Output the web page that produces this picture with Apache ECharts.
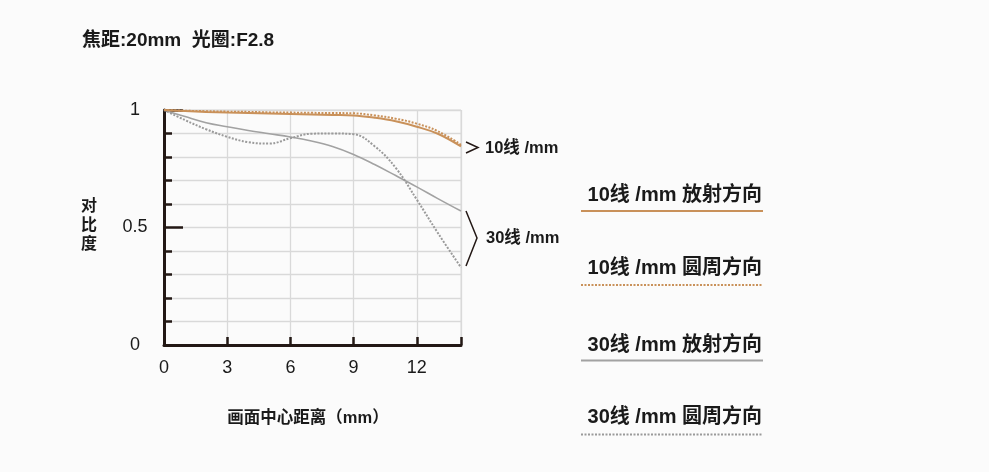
<!DOCTYPE html>
<html>
<head>
<meta charset="utf-8">
<script src="https://cdn.jsdelivr.net/npm/echarts@6/dist/echarts.min.js"></script>
<style>
html,body{margin:0;padding:0;background:#fbfbfb;}
#chart{width:989px;height:472px;}
</style>
</head>
<body>
<div id="chart"></div>
<script>
// Image-height distance from centre (mm)
const distances = [0, 1, 2, 3, 4, 5, 6, 7, 8, 9, 10, 11, 12, 13, 14.1];
// MTF contrast values
const radial10     = [1.000, 0.996, 0.992, 0.989, 0.987, 0.985, 0.983, 0.981, 0.979, 0.977, 0.967, 0.952, 0.929, 0.899, 0.845];
const tangential10 = [1.000, 0.997, 0.995, 0.993, 0.992, 0.990, 0.989, 0.988, 0.987, 0.986, 0.977, 0.963, 0.942, 0.910, 0.852];
const radial30     = [1.000, 0.972, 0.946, 0.929, 0.913, 0.899, 0.885, 0.868, 0.845, 0.811, 0.768, 0.721, 0.673, 0.623, 0.570];
const tangential30 = [1.000, 0.957, 0.918, 0.886, 0.863, 0.857, 0.880, 0.899, 0.900, 0.897, 0.846, 0.754, 0.619, 0.477, 0.330];

const seriesNames = ['10线 /mm 放射方向', '10线 /mm 圆周方向', '30线 /mm 放射方向', '30线 /mm 圆周方向'];
const yMajorLabels = {0: '0', 0.5: '0.5', 1: '1'};
const xTickLabels = ['0', '3', '6', '9', '12'];
const titleText = '焦距:20mm  光圈:F2.8';
const xName = '画面中心距离（mm）';
const yName = '对\n比\n度';
const groupLabels = ['10线 /mm', '30线 /mm'];

const FONT = '"Liberation Sans", "Noto Sans CJK SC", sans-serif';
const DARK = '#231815';
const ORANGE = '#c9915a';
const GRAY = '#a2a2a2';
const GRAYDOT = '#9a9a9a';

function pairs(ys) { return distances.map((x, i) => [x, ys[i]]); }

const chart = echarts.init(document.getElementById('chart'), null, {renderer: 'canvas'});

const legendItems = [
  {name: seriesNames[0], color: ORANGE, dash: 'solid', textY: 195, lineY: 211},
  {name: seriesNames[1], color: ORANGE, dash: [2, 1.5], textY: 268, lineY: 285},
  {name: seriesNames[2], color: GRAY, dash: 'solid', textY: 345, lineY: 360.5},
  {name: seriesNames[3], color: GRAYDOT, dash: [2, 1.5], textY: 417, lineY: 434.5}
];

const graphics = [];
graphics.push({type: 'text', x: 82, y: 41, style: {text: titleText, font: 'bold 19px ' + FONT, fill: '#1a1a1a', verticalAlign: 'middle'}});
graphics.push({type: 'text', x: 89, y: 226, style: {text: yName, font: 'bold 16px ' + FONT, fill: '#1a1a1a', align: 'center', verticalAlign: 'middle', lineHeight: 19}});
graphics.push({type: 'text', x: 308, y: 418, style: {text: xName, font: 'bold 16.5px ' + FONT, fill: '#1a1a1a', align: 'center', verticalAlign: 'middle'}});
// chevrons
graphics.push({type: 'polyline', shape: {points: [[466, 142], [478, 147.5], [466, 153]]}, style: {stroke: DARK, lineWidth: 1.5, fill: null}});
graphics.push({type: 'polyline', shape: {points: [[466, 211], [477, 238], [466, 266]]}, style: {stroke: DARK, lineWidth: 1.5, fill: null}});
graphics.push({type: 'text', x: 485, y: 148.5, style: {text: groupLabels[0], font: 'bold 16.5px ' + FONT, fill: '#1a1a1a', verticalAlign: 'middle'}});
graphics.push({type: 'text', x: 486, y: 238.5, style: {text: groupLabels[1], font: 'bold 16.5px ' + FONT, fill: '#1a1a1a', verticalAlign: 'middle'}});
legendItems.forEach(it => {
  graphics.push({type: 'text', x: 762, y: it.textY, style: {text: it.name, font: 'bold 20px ' + FONT, fill: '#1a1a1a', align: 'right', verticalAlign: 'middle'}});
  graphics.push({type: 'line', shape: {x1: 581, y1: it.lineY, x2: 763, y2: it.lineY}, style: {stroke: it.color, lineWidth: 2, lineDash: it.dash === 'solid' ? null : it.dash}});
});

const option = {
  backgroundColor: '#fbfbfb',
  animation: false,
  grid: {left: 164, right: 528, top: 110, bottom: 127, show: true, borderColor: '#d9d9d9', borderWidth: 1},
  xAxis: {
    type: 'value', min: 0, max: 14.1, interval: 3,
    axisLine: {show: true, lineStyle: {color: DARK, width: 3}},
    axisTick: {show: true, inside: true, length: 8, lineStyle: {color: DARK, width: 2.5}},
    axisLabel: {
      show: true, margin: 14, color: '#1a1a1a', fontSize: 18, fontFamily: FONT,
      formatter: v => { const s = String(Math.round(v)); return (Math.abs(v - Math.round(v)) < 1e-6 && xTickLabels.indexOf(s) >= 0) ? s : ''; }
    },
    splitLine: {show: true, lineStyle: {color: '#d9d9d9', width: 1.3}}
  },
  yAxis: [
    {
      type: 'value', min: 0, max: 1, interval: 0.1,
      axisLine: {show: true, lineStyle: {color: DARK, width: 3}},
      axisTick: {show: true, inside: true, length: 8, lineStyle: {color: DARK, width: 2.5}},
      axisLabel: {show: false},
      splitLine: {show: true, lineStyle: {color: '#d9d9d9', width: 1.3}}
    },
    {
      type: 'value', min: 0, max: 1, interval: 0.5, position: 'left',
      axisLine: {show: false},
      axisTick: {show: true, inside: true, length: 19, lineStyle: {color: DARK, width: 2.5}},
      axisLabel: {
        show: true, margin: 29, align: 'center', color: '#1a1a1a', fontSize: 18, fontFamily: FONT,
        formatter: v => { const k = Math.round(v * 10) / 10; return yMajorLabels[k] !== undefined ? yMajorLabels[k] : ''; }
      },
      splitLine: {show: false}
    }
  ],
  series: [
    {name: seriesNames[0], type: 'line', data: pairs(radial10), smooth: 0.4, showSymbol: false, z: 4,
     lineStyle: {color: ORANGE, width: 2}},
    {name: seriesNames[1], type: 'line', data: pairs(tangential10), smooth: 0.4, showSymbol: false, z: 4,
     lineStyle: {color: ORANGE, width: 2, type: [2, 1.5]}},
    {name: seriesNames[2], type: 'line', data: pairs(radial30), smooth: 0.4, showSymbol: false, z: 3,
     lineStyle: {color: GRAY, width: 1.6}},
    {name: seriesNames[3], type: 'line', data: pairs(tangential30), smooth: 0.4, showSymbol: false, z: 3,
     lineStyle: {color: GRAYDOT, width: 2, type: [2, 1.5]}}
  ],
  graphic: graphics
};
chart.setOption(option);
</script>
</body>
</html>
